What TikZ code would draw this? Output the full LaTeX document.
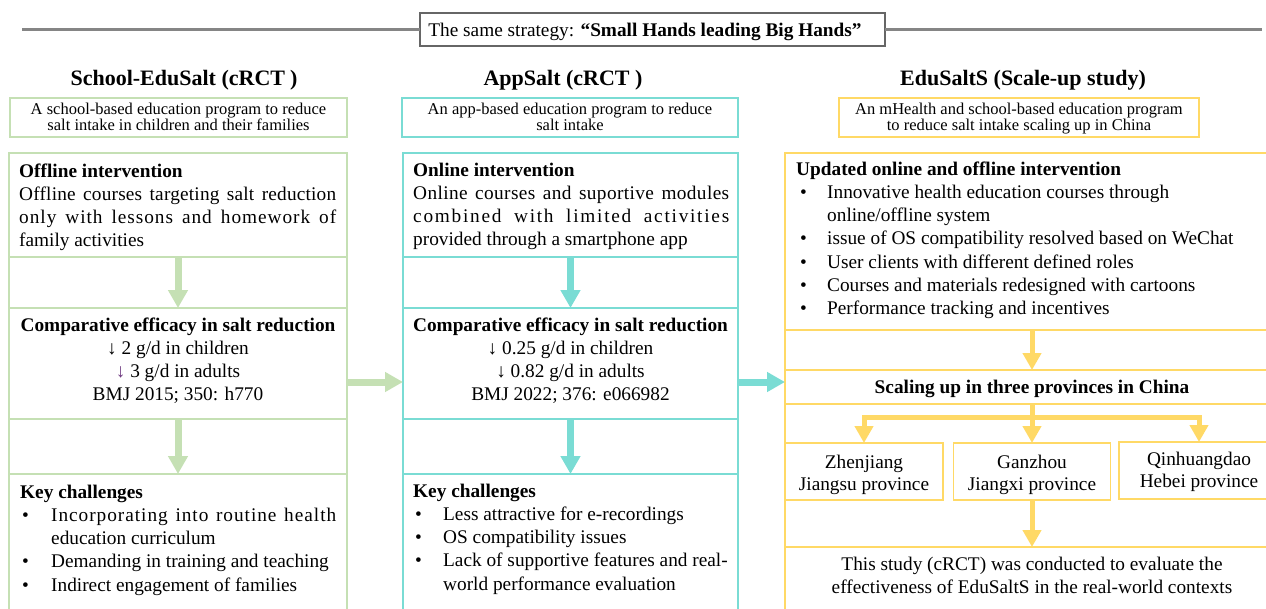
\documentclass[tikz,border=0pt]{standalone}
\usepackage{fontspec}
\setmainfont{Liberation Serif}
\usetikzlibrary{arrows.meta,calc}

\definecolor{grn}{HTML}{C5E0B4}
\definecolor{cyn}{RGB}{122,220,212}
\definecolor{ylw}{HTML}{FFD966}
\definecolor{rulegray}{HTML}{858585}
\definecolor{framegray}{HTML}{666666}
\definecolor{purp}{HTML}{6E3A80}

% a block of lines whose first baseline is the node's base
\newcommand\lines[2]{\vtop{\hsize=#1\parindent=0pt\parskip=0pt\relax #2}}
% a line spread to a given width, with some letter spacing
\newcommand\spr[3]{\makebox[#1][s]{\addfontfeature{LetterSpace=#2}#3}}
\newcommand\bul[1]{\makebox[#1][l]{\textbullet}}

\begin{document}
\begin{tikzpicture}[x=1pt,y=-1pt,
  frame/.style={draw, line width=1.5pt, inner sep=0pt, outer sep=0pt, anchor=north west},
  gfr/.style={frame, draw=grn},
  cfr/.style={frame, draw=cyn},
  yfr/.style={frame, draw=ylw},
  txt/.style={inner sep=0pt, font=\fontsize{19.3}{23.3}\selectfont},
  ttl/.style={inner sep=0pt, anchor=base, font=\fontsize{22}{26}\selectfont\bfseries},
  sub/.style={inner sep=0pt, anchor=base, font=\fontsize{16.5}{14.5}\selectfont},
  garrow/.style={draw=grn, line width=7pt, -{Triangle[length=18pt,width=19pt]}},
  carrow/.style={draw=cyn, line width=7pt, -{Triangle[length=18pt,width=19pt]}},
  yarrow/.style={draw=ylw, line width=5pt, -{Triangle[length=17pt,width=18pt]}},
  ruleline/.style={draw=rulegray, line width=2.5pt}
]
\useasboundingbox (0,0) rectangle (1266,608);
\clip (0,0) rectangle (1266,608);

% ---- shared strategy banner ----
\node[frame, draw=framegray, line width=1.6pt, minimum width=465pt, minimum height=33pt] (strat) at (420,13) {};
\coordinate (ruleL) at (22,29.5);
\coordinate (ruleR) at (1262,29.5);
\draw[ruleline] (ruleL) -- (strat.west);
\draw[ruleline] (strat.east) -- (ruleR);
\node[txt, anchor=base] (stratT) at (645,36) {The same strategy: \textbf{“Small Hands leading Big Hands”}};

% ---- column titles ----
\node[ttl] (t1) at (184,85) {School-EduSalt (cRCT\hspace{5pt})};
\node[ttl] (t2) at (563,85) {AppSalt (cRCT )};
\node[ttl] (t3) at (1023,85) {EduSaltS (Scale-up study)};

% ---- subtitle boxes ----
\node[gfr, minimum width=337pt, minimum height=39pt] (s1) at (10,98) {};
\node[cfr, minimum width=336pt, minimum height=39pt] (s2) at (402,98) {};
\node[yfr, minimum width=360pt, minimum height=39pt] (s3) at (839,98) {};
\node[sub] (s1t) at (178.5,114) {\lines{340pt}{\centering A school-based education program to reduce\par salt intake in children and their families}};
\node[sub] (s2t) at (570,114) {\lines{340pt}{\centering An app-based education program to reduce\par salt intake}};
\node[sub] (s3t) at (1019,114) {\lines{360pt}{\centering An mHealth and school-based education program\par to reduce salt intake scaling up in China}};

% ---- School-EduSalt column ----
\node[gfr, minimum width=338pt, minimum height=104pt] (L1) at (9,153) {};
\node[gfr, minimum width=338pt, minimum height=51pt] (Lg1) at (9,257) {};
\node[gfr, minimum width=338pt, minimum height=111pt] (L2) at (9,308) {};
\node[gfr, minimum width=338pt, minimum height=55pt] (Lg2) at (9,419) {};
\node[gfr, minimum width=338pt, minimum height=150pt] (L3) at (9,474) {};

\node[txt, anchor=base west] (L1t) at (19,177) {\lines{318pt}{%
  \textbf{Offline intervention}\par
  \spr{317pt}{1}{Offline courses targeting salt reduction}\par
  \spr{317pt}{5}{only with lessons and homework of}\par
  family activities}};
\node[txt, anchor=base] (L2t) at (178,331) {\lines{330pt}{\centering
  \textbf{Comparative efficacy in salt reduction}\par
  ↓ 2 g/d in children\par
  {\color{purp}↓} 3 g/d in adults\par
  BMJ 2015; 350: h770}};
\node[txt, anchor=base west] (L3t) at (20,498) {\lines{320pt}{%
  \textbf{Key challenges}\par
  \hspace*{2pt}\bul{29pt}\spr{285pt}{5}{Incorporating into routine health}\par
  \hspace*{31pt}education curriculum\par
  \hspace*{2pt}\bul{29pt}Demanding in training and teaching\par
  \hspace*{2pt}\bul{29pt}Indirect engagement of families}};

% ---- AppSalt column ----
\node[cfr, minimum width=335pt, minimum height=104pt] (M1) at (403,153) {};
\node[cfr, minimum width=335pt, minimum height=51pt] (Mg1) at (403,257) {};
\node[cfr, minimum width=335pt, minimum height=111pt] (M2) at (403,308) {};
\node[cfr, minimum width=335pt, minimum height=55pt] (Mg2) at (403,419) {};
\node[cfr, minimum width=335pt, minimum height=150pt] (M3) at (403,474) {};

\node[txt, anchor=base west] (M1t) at (413,176) {\lines{318pt}{%
  \textbf{Online intervention}\par
  \spr{316pt}{2}{Online courses and suportive modules}\par
  \spr{316pt}{9}{combined with limited activities}\par
  provided through a smartphone app}};
\node[txt, anchor=base] (M2t) at (570.5,331) {\lines{330pt}{\centering
  \textbf{Comparative efficacy in salt reduction}\par
  ↓ 0.25 g/d in children\par
  ↓ 0.82 g/d in adults\par
  BMJ 2022; 376: e066982}};
\node[txt, anchor=base west] (M3t) at (413,497) {\lines{320pt}{%
  \textbf{Key challenges}\par
  \hspace*{2pt}\bul{28pt}Less attractive for e-recordings\par
  \hspace*{2pt}\bul{28pt}OS compatibility issues\par
  \hspace*{2pt}\bul{28pt}Lack of supportive features and real-\par
  \hspace*{30pt}world performance evaluation}};

% ---- EduSaltS column ----
\node[yfr, minimum width=494pt, minimum height=177pt] (R1) at (785,153) {};
\node[yfr, minimum width=494pt, minimum height=40pt] (Rg1) at (785,330) {};
\node[yfr, minimum width=494pt, minimum height=34pt] (R2) at (785,370) {};
\node[yfr, minimum width=494pt, minimum height=143pt] (Rg2) at (785,404) {};
\node[yfr, minimum width=494pt, minimum height=77pt] (R3) at (785,547) {};
\node[yfr, minimum width=158pt, minimum height=57pt] (P1) at (785,443) {};
\node[yfr, minimum width=157pt, minimum height=57pt] (P2) at (953.5,443) {};
\node[yfr, minimum width=160pt, minimum height=57pt] (P3) at (1119,442) {};

\node[txt, anchor=base west] (R1t) at (796,175) {\lines{470pt}{%
  \textbf{Updated online and offline intervention}\par
  \hspace*{4pt}\bul{27pt}Innovative health education courses through\par
  \hspace*{31pt}online/offline system\par
  \hspace*{4pt}\bul{27pt}issue of OS compatibility resolved based on WeChat\par
  \hspace*{4pt}\bul{27pt}User clients with different defined roles\par
  \hspace*{4pt}\bul{27pt}Courses and materials redesigned with cartoons\par
  \hspace*{4pt}\bul{27pt}Performance tracking and incentives}};
\node[txt, anchor=base] (R2t) at (1032,393) {\textbf{Scaling up in three provinces in China}};
\node[txt, anchor=base] (P1t) at (864,468) {\lines{157pt}{\baselineskip=22pt\centering Zhenjiang\par Jiangsu province}};
\node[txt, anchor=base] (P2t) at (1032,468) {\lines{157pt}{\baselineskip=22pt\centering Ganzhou\par Jiangxi province}};
\node[txt, anchor=base] (P3t) at (1199,465) {\lines{160pt}{\baselineskip=22pt\centering Qinhuangdao\par Hebei province}};
\node[txt, anchor=base] (R3t) at (1032,570) {\lines{480pt}{\centering
  This study (cRCT) was conducted to evaluate the\par
  effectiveness of EduSaltS in the real-world contexts}};

% ---- connectors ----
\coordinate (flow) at (0,382);
\coordinate (fork) at (1032,417.5);
\draw[garrow] (L1.south) -- (L2.north);
\draw[garrow] (L2.south) -- (L3.north);
\draw[garrow] (L2.east |- flow) -- (M2.west |- flow);
\draw[carrow] (M1.south) -- (M2.north);
\draw[carrow] (M2.south) -- (M3.north);
\draw[carrow] (M2.east |- flow) -- (R2.west |- flow);
\draw[yarrow] (R1.south) -- (R2.north);
\draw[yarrow] (R2.south) -- (P2.north);
\draw[yarrow] (fork) -| (P1.north);
\draw[yarrow] (fork) -| (P3.north);
\draw[yarrow] (P2.south) -- (R3.north);
\end{tikzpicture}
\end{document}
